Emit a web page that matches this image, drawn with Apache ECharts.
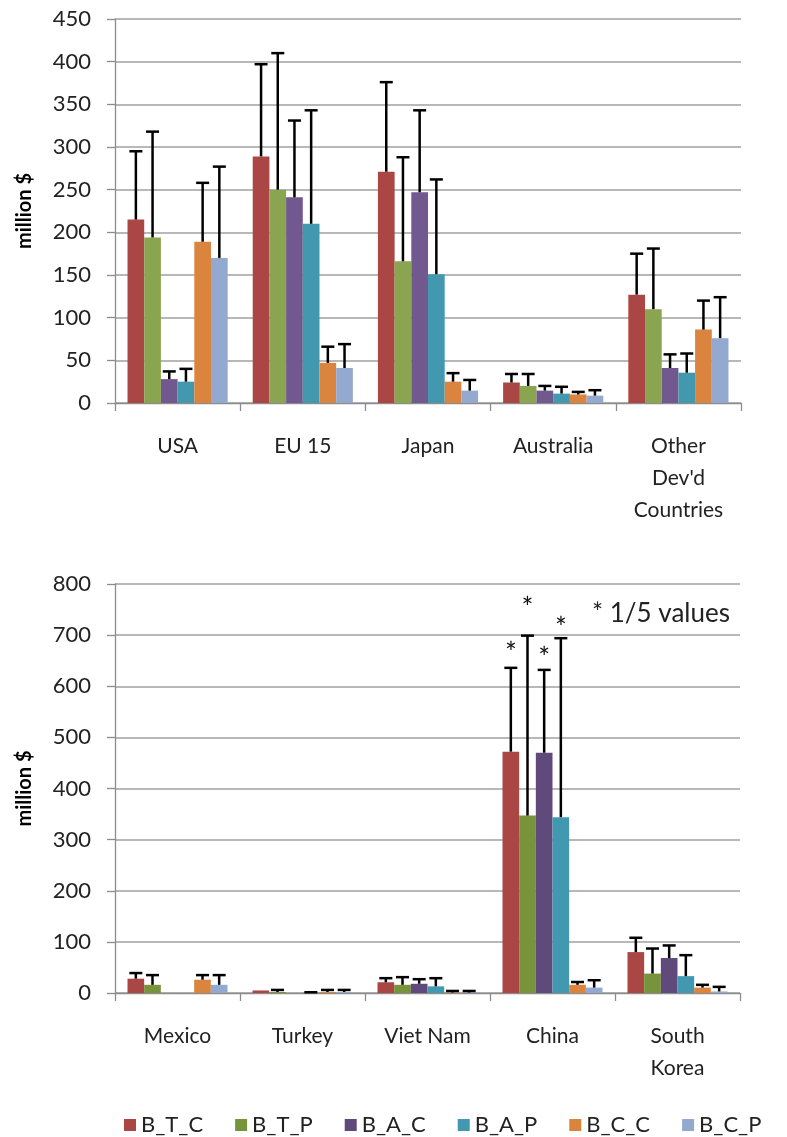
<!DOCTYPE html>
<html><head><meta charset="utf-8">
<script src="https://cdn.jsdelivr.net/npm/echarts@6/dist/echarts.min.js"></script>
<style>html,body{margin:0;padding:0;background:#fff}#c{width:787px;height:1137px}</style>
</head><body><div id="c"></div>
<script>
// ---------- data ----------
const seriesNames = ['B_T_C', 'B_T_P', 'B_A_C', 'B_A_P', 'B_C_C', 'B_C_P'];
const topCategories = ['USA', 'EU 15', 'Japan', 'Australia', "Other\nDev'd\nCountries"];
const bottomCategories = ['Mexico', 'Turkey', 'Viet Nam', 'China', 'South\nKorea'];
const topTicks = [0, 50, 100, 150, 200, 250, 300, 350, 400, 450];
const bottomTicks = [0, 100, 200, 300, 400, 500, 600, 700, 800];

// top panel values (million $) and upper error-bar ends
const topBTC = [215, 289, 271, 24, 127];
const topBTP = [194, 250, 166, 20, 110];
const topBAC = [28, 241, 247, 14.5, 41];
const topBAP = [25, 210, 151, 11, 35.5];
const topBCC = [189, 47, 25, 10, 86];
const topBCP = [170, 41, 14.5, 8.6, 76];
const topErrBTC = [295, 397, 376, 34, 175];
const topErrBTP = [318, 410, 288, 34, 181];
const topErrBAC = [37, 331, 343, 20, 57];
const topErrBAP = [40, 343, 262, 19, 58];
const topErrBCC = [258, 66, 35, 13, 120];
const topErrBCP = [277, 69, 27, 15, 124];

// bottom panel values (China B_T/B_A shown at 1/5)
const botBTC = [28, 5, 21, 472, 80];
const botBTP = [16, 2, 16, 347, 38];
const botBAC = [0, 0, 18, 470, 68.5];
const botBAP = [0, 0.5, 13, 344, 33];
const botBCC = [26, 2, 1, 16, 10.5];
const botBCP = [16, 2, 1, 10.5, 3];
const botErrBTC = [39, null, 29, 636, 108];
const botErrBTP = [35, 6, 31, 699, 87];
const botErrBAC = [null, null, 27, 632, 93];
const botErrBAP = [null, 1.5, 29, 694, 74];
const botErrBCC = [35, 6, 4, 21.5, 16];
const botErrBCP = [35, 6, 4, 25, 12];

const starCategory = 'China';
const starredSeries = ['B_T_C', 'B_T_P', 'B_A_C', 'B_A_P'];
const noteText = '* 1/5 values';

// ---------- styling ----------
const FONT = 'Lato, "Open Sans", sans-serif';
const topColors = ['#AA4644', '#8AA54F', '#71588F', '#4298AF', '#DB843D', '#93A9CF'];
const botColors = ['#AA4644', '#77933C', '#604A7B', '#4298AF', '#DB843D', '#93A9CF'];
const starOffsets = [14, 27, 11, 9];

const topVals = [topBTC, topBTP, topBAC, topBAP, topBCC, topBCP];
const topErrs = [topErrBTC, topErrBTP, topErrBAC, topErrBAP, topErrBCC, topErrBCP];
const botVals = [botBTC, botBTP, botBAC, botBAP, botBCC, botBCP];
const botErrs = [botErrBTC, botErrBTP, botErrBAC, botErrBAP, botErrBCC, botErrBCP];

const nSeries = seriesNames.length;
const CAT_GAP = 0.2;

function errRender(si, cats) {
  return function (params, api) {
    const ci = api.value(0);
    const v = api.value(1);
    const e = api.value(2);
    const base = api.coord([ci, v]);
    const top = api.coord([ci, e]);
    const catW = api.size([1, 0])[0];
    const bw = catW * (1 - CAT_GAP) / nSeries;
    const x = base[0] - catW * (1 - CAT_GAP) / 2 + (si + 0.5) * bw;
    const children = [
      { type: 'line', shape: { x1: x, y1: base[1], x2: x, y2: top[1] },
        style: { stroke: '#000', lineWidth: 2.5 } },
      { type: 'line', shape: { x1: x - 6.5, y1: top[1], x2: x + 6.5, y2: top[1] },
        style: { stroke: '#000', lineWidth: 2.5 } }
    ];
    if (cats && cats[ci] === starCategory && starredSeries.indexOf(seriesNames[si]) >= 0) {
      children.push({ type: 'text', x: x, y: top[1] - starOffsets[si],
        style: { text: '*', fill: '#111', font: '28px ' + FONT, align: 'center', verticalAlign: 'middle' } });
    }
    return { type: 'group', children: children };
  };
}

function buildSeries(vals, errs, colors, idx, cats) {
  const out = [];
  vals.forEach((arr, si) => {
    out.push({
      name: seriesNames[si], type: 'bar', xAxisIndex: idx, yAxisIndex: idx,
      data: arr, barGap: '0%', barCategoryGap: (CAT_GAP * 100) + '%',
      itemStyle: { color: colors[si] }, z: 2, animation: false
    });
  });
  errs.forEach((arr, si) => {
    const d = [];
    arr.forEach((e, ci) => { if (e !== null) d.push([ci, vals[si][ci], e]); });
    out.push({
      type: 'custom', xAxisIndex: idx, yAxisIndex: idx, data: d, z: 5,
      renderItem: errRender(si, cats), animation: false, silent: true,
      encode: { x: 0, y: [1, 2] }
    });
  });
  return out;
}

function xAxisCfg(cats, idx) {
  return {
    type: 'category', gridIndex: idx, data: cats,
    axisLine: { lineStyle: { color: '#8c8c8c', width: 1.3 } },
    axisTick: { show: true, length: 8, lineStyle: { color: '#8c8c8c', width: 1.3 } },
    axisLabel: { color: '#222', fontFamily: FONT, fontSize: 21, lineHeight: 32, margin: 27, interval: 0 }
  };
}
function yAxisCfg(ticks, idx) {
  return {
    type: 'value', gridIndex: idx, min: ticks[0], max: ticks[ticks.length - 1],
    interval: ticks[1] - ticks[0],
    name: 'million $', nameLocation: 'middle', nameGap: 80, nameRotate: 90,
    nameTextStyle: { color: '#000', fontFamily: FONT, fontSize: 20, fontWeight: 'bold' },
    axisLine: { show: true, lineStyle: { color: '#8c8c8c', width: 1.3 } },
    axisTick: { show: true, length: 8, lineStyle: { color: '#8c8c8c', width: 1.3 } },
    axisLabel: { color: '#222', fontFamily: FONT, fontSize: 22, margin: 24 },
    splitLine: { lineStyle: { color: '#a0a0a0', width: 1.5 } }
  };
}

const chart = echarts.init(document.getElementById('c'), null, { renderer: 'canvas' });
chart.setOption({
  animation: false,
  backgroundColor: '#fff',
  grid: [
    { left: 115, top: 19, width: 626, height: 384 },
    { left: 115, top: 584, width: 625, height: 409 }
  ],
  xAxis: [xAxisCfg(topCategories, 0), xAxisCfg(bottomCategories, 1)],
  yAxis: [yAxisCfg(topTicks, 0), yAxisCfg(bottomTicks, 1)],
  legend: {
    top: 1109, left: 119, itemWidth: 12, itemHeight: 12, itemGap: 32,
    icon: 'rect',
    textStyle: { color: '#222', fontFamily: FONT, fontSize: 22 },
    data: seriesNames.map((n, i) => ({ name: n, itemStyle: { color: botColors[i] } }))
  },
  graphic: [{
    type: 'text', left: 592, top: 601,
    style: { text: noteText, fill: '#222', font: '26px ' + FONT }
  }],
  series: buildSeries(topVals, topErrs, topColors, 0, topCategories)
    .concat(buildSeries(botVals, botErrs, botColors, 1, bottomCategories))
});
</script></body></html>
